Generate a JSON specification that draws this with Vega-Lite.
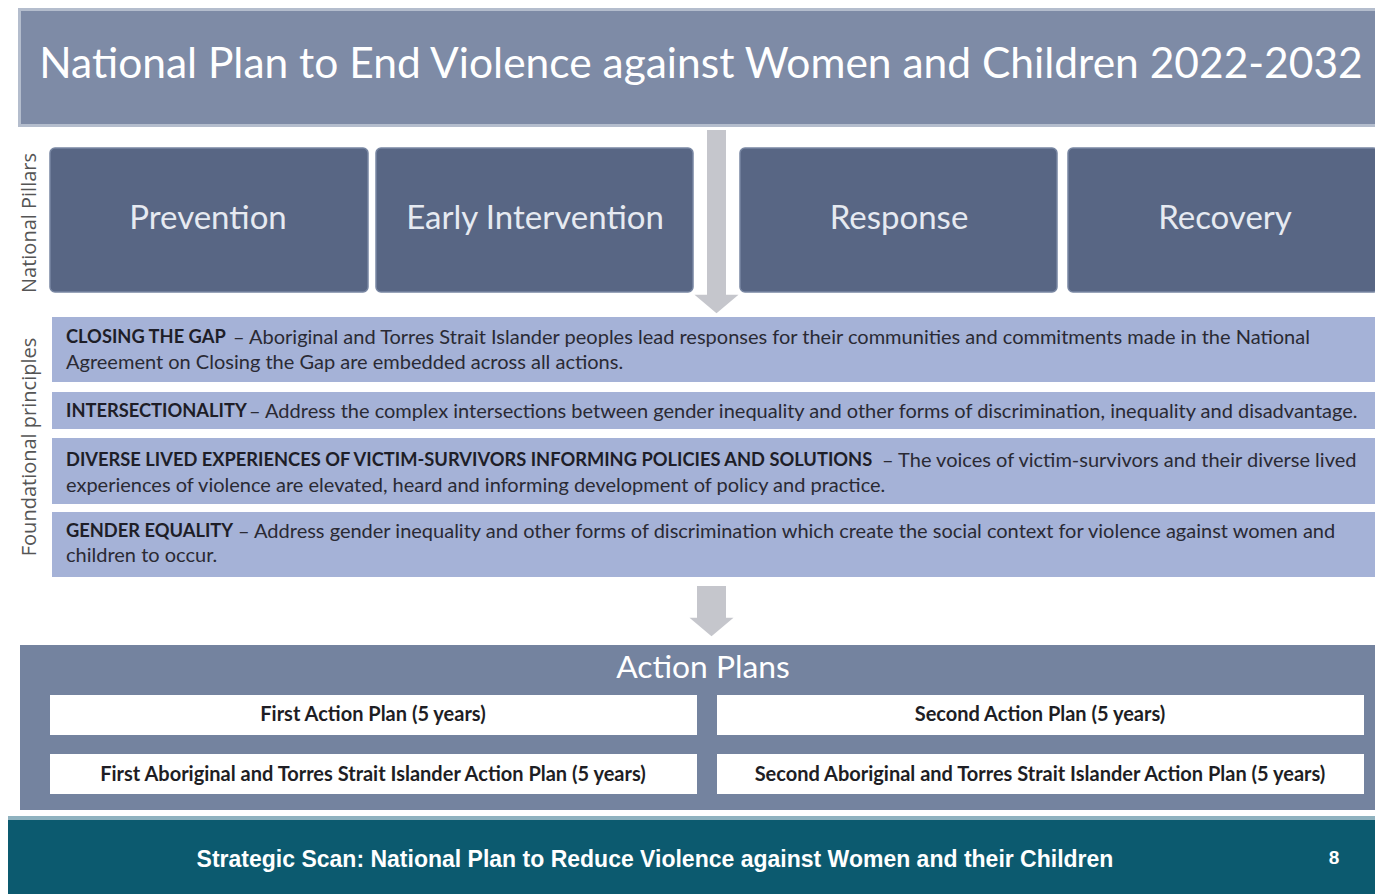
{
  "$schema": "https://vega.github.io/schema/vega-lite/v6.json",
  "width": 1375,
  "height": 894,
  "padding": 0,
  "autosize": {"type": "none"},
  "background": "white",
  "config": {"view": {"stroke": null}},
  "datasets": {
    "boxes": [
      {"kind": "titleedge", "left": 18, "right": 1377, "top": 8, "bottom": 127},
      {"kind": "title", "left": 21, "right": 1375, "top": 11, "bottom": 124},
      {"kind": "principle", "left": 52, "right": 1375, "top": 317, "bottom": 382},
      {"kind": "principle", "left": 52, "right": 1375, "top": 392, "bottom": 429},
      {"kind": "principle", "left": 52, "right": 1375, "top": 438, "bottom": 504},
      {"kind": "principle", "left": 52, "right": 1375, "top": 512, "bottom": 577},
      {"kind": "actions", "left": 20, "right": 1375, "top": 645, "bottom": 810},
      {"kind": "plan", "left": 50, "right": 697, "top": 695, "bottom": 735},
      {"kind": "plan", "left": 717, "right": 1364, "top": 695, "bottom": 735},
      {"kind": "plan", "left": 50, "right": 697, "top": 754, "bottom": 794},
      {"kind": "plan", "left": 717, "right": 1364, "top": 754, "bottom": 794},
      {"kind": "footerline", "left": 8, "right": 1375, "top": 816, "bottom": 821},
      {"kind": "footer", "left": 8, "right": 1375, "top": 820, "bottom": 894},
      {"kind": "shaft", "left": 707, "right": 726, "top": 130, "bottom": 296},
      {"kind": "shaft", "left": 697, "right": 726, "top": 586, "bottom": 618}
    ],
    "pillars": [
      {"name": "Prevention", "left": 50, "right": 368, "top": 148, "bottom": 292},
      {"name": "Early Intervention", "left": 376, "right": 693, "top": 148, "bottom": 292},
      {"name": "Response", "left": 740, "right": 1057, "top": 148, "bottom": 292},
      {"name": "Recovery", "left": 1068, "right": 1378, "top": 148, "bottom": 292}
    ],
    "heads": [
      {"x": 716.5, "y": 304},
      {"x": 711.5, "y": 627}
    ],
    "labels": [
      {"kind": "title", "text": "National Plan to End Violence against Women and Children 2022-2032", "x": 701, "y": 65},
      {"kind": "pillar", "text": "Prevention", "x": 208, "y": 219},
      {"kind": "pillar", "text": "Early Intervention", "x": 535, "y": 219},
      {"kind": "pillar", "text": "Response", "x": 899, "y": 219},
      {"kind": "pillar", "text": "Recovery", "x": 1225, "y": 219},
      {"kind": "side", "text": "National Pillars", "x": 30, "y": 223},
      {"kind": "side", "text": "Foundational principles", "x": 30, "y": 447},
      {"kind": "bold", "text": "CLOSING THE GAP", "x": 66, "y": 338},
      {"kind": "reg", "text": "– Aboriginal and Torres Strait Islander peoples lead responses for their communities and commitments made in the National", "x": 233, "y": 338},
      {"kind": "reg", "text": "Agreement on Closing the Gap are embedded across all actions.", "x": 66, "y": 363},
      {"kind": "bold", "text": "INTERSECTIONALITY", "x": 66, "y": 412},
      {"kind": "reg", "text": "– Address the complex intersections between gender inequality and other forms of discrimination, inequality and disadvantage.", "x": 249, "y": 412},
      {"kind": "bold", "text": "DIVERSE LIVED EXPERIENCES OF VICTIM-SURVIVORS INFORMING POLICIES AND SOLUTIONS", "x": 66, "y": 461},
      {"kind": "reg", "text": "– The voices of victim-survivors and their diverse lived", "x": 882, "y": 461},
      {"kind": "reg", "text": "experiences of violence are elevated, heard and informing development of policy and practice.", "x": 66, "y": 486},
      {"kind": "bold", "text": "GENDER EQUALITY", "x": 66, "y": 532},
      {"kind": "reg", "text": "– Address gender inequality and other forms of discrimination which create the social context for violence against women and", "x": 238, "y": 532},
      {"kind": "reg", "text": "children to occur.", "x": 66, "y": 556},
      {"kind": "actionTitle", "text": "Action Plans", "x": 703, "y": 668},
      {"kind": "plan", "text": "First Action Plan (5 years)", "x": 373, "y": 715},
      {"kind": "plan", "text": "Second Action Plan (5 years)", "x": 1040, "y": 715},
      {"kind": "plan", "text": "First Aboriginal and Torres Strait Islander Action Plan (5 years)", "x": 373, "y": 775},
      {"kind": "plan", "text": "Second Aboriginal and Torres Strait Islander Action Plan (5 years)", "x": 1040, "y": 775},
      {"kind": "footer", "text": "Strategic Scan: National Plan to Reduce Violence against Women and their Children", "x": 655, "y": 860},
      {"kind": "page", "text": "8", "x": 1334, "y": 858}
    ]
  },
  "layer": [
    {
      "data": {"name": "boxes"},
      "mark": {"type": "rect", "strokeWidth": 0},
      "encoding": {
        "x": {"field": "left", "type": "quantitative", "scale": {"domain": [0, 1375], "nice": false, "zero": false}, "axis": null},
        "x2": {"field": "right"},
        "y": {"field": "top", "type": "quantitative", "scale": {"domain": [0, 894], "nice": false, "zero": false, "reverse": true}, "axis": null},
        "y2": {"field": "bottom"},
        "color": {
          "field": "kind", "type": "nominal", "legend": null,
          "scale": {
            "domain": ["titleedge", "title", "principle", "actions", "plan", "footerline", "footer", "shaft"],
            "range": ["#b4bdcd", "#7e8ba6", "#a5b2d7", "#74839f", "#ffffff", "#8fb2bf", "#0c5a6f", "#c5c6cc"]
          }
        }
      }
    },
    {
      "data": {"name": "pillars"},
      "mark": {"type": "rect", "cornerRadius": 5, "fill": "#586684", "stroke": "#7886a2", "strokeWidth": 1.5},
      "encoding": {
        "x": {"field": "left", "type": "quantitative"},
        "x2": {"field": "right"},
        "y": {"field": "top", "type": "quantitative"},
        "y2": {"field": "bottom"}
      }
    },
    {
      "data": {"name": "heads"},
      "mark": {"type": "point", "shape": "M-1,-0.42L1,-0.42L0,0.42Z", "filled": true, "fill": "#c5c6cc", "opacity": 1, "size": 1936, "strokeWidth": 0},
      "encoding": {
        "x": {"field": "x", "type": "quantitative"},
        "y": {"field": "y", "type": "quantitative"}
      }
    },
    {
      "data": {"name": "labels"},
      "transform": [{"filter": "datum.kind === 'title'"}],
      "mark": {"type": "text", "font": "Lato", "fontSize": 42.5, "fill": "#ffffff", "align": "center", "baseline": "middle"},
      "encoding": {"x": {"field": "x", "type": "quantitative"}, "y": {"field": "y", "type": "quantitative"}, "text": {"field": "text"}}
    },
    {
      "data": {"name": "labels"},
      "transform": [{"filter": "datum.kind === 'pillar'"}],
      "mark": {"type": "text", "font": "Lato", "fontSize": 33, "fill": "#e6eaf1", "align": "center", "baseline": "middle"},
      "encoding": {"x": {"field": "x", "type": "quantitative"}, "y": {"field": "y", "type": "quantitative"}, "text": {"field": "text"}}
    },
    {
      "data": {"name": "labels"},
      "transform": [{"filter": "datum.kind === 'side'"}],
      "mark": {"type": "text", "font": "Open Sans", "fontSize": 20, "fill": "#555555", "align": "center", "baseline": "middle", "angle": 270},
      "encoding": {"x": {"field": "x", "type": "quantitative"}, "y": {"field": "y", "type": "quantitative"}, "text": {"field": "text"}}
    },
    {
      "data": {"name": "labels"},
      "transform": [{"filter": "datum.kind === 'bold'"}],
      "mark": {"type": "text", "font": "Lato", "fontSize": 18.3, "fontWeight": "bold", "fill": "#1e1e28", "align": "left", "baseline": "middle"},
      "encoding": {"x": {"field": "x", "type": "quantitative"}, "y": {"field": "y", "type": "quantitative"}, "text": {"field": "text"}}
    },
    {
      "data": {"name": "labels"},
      "transform": [{"filter": "datum.kind === 'reg'"}],
      "mark": {"type": "text", "font": "Lato", "fontSize": 20, "fill": "#2a2a34", "align": "left", "baseline": "middle"},
      "encoding": {"x": {"field": "x", "type": "quantitative"}, "y": {"field": "y", "type": "quantitative"}, "text": {"field": "text"}}
    },
    {
      "data": {"name": "labels"},
      "transform": [{"filter": "datum.kind === 'actionTitle'"}],
      "mark": {"type": "text", "font": "Lato", "fontSize": 31.8, "fill": "#ffffff", "align": "center", "baseline": "middle"},
      "encoding": {"x": {"field": "x", "type": "quantitative"}, "y": {"field": "y", "type": "quantitative"}, "text": {"field": "text"}}
    },
    {
      "data": {"name": "labels"},
      "transform": [{"filter": "datum.kind === 'plan'"}],
      "mark": {"type": "text", "font": "Lato", "fontSize": 20, "fontWeight": "bold", "fill": "#1e1e24", "align": "center", "baseline": "middle"},
      "encoding": {"x": {"field": "x", "type": "quantitative"}, "y": {"field": "y", "type": "quantitative"}, "text": {"field": "text"}}
    },
    {
      "data": {"name": "labels"},
      "transform": [{"filter": "datum.kind === 'footer'"}],
      "mark": {"type": "text", "font": "Liberation Sans", "fontSize": 23, "fontWeight": "bold", "fill": "#ffffff", "align": "center", "baseline": "middle"},
      "encoding": {"x": {"field": "x", "type": "quantitative"}, "y": {"field": "y", "type": "quantitative"}, "text": {"field": "text"}}
    },
    {
      "data": {"name": "labels"},
      "transform": [{"filter": "datum.kind === 'page'"}],
      "mark": {"type": "text", "font": "Liberation Sans", "fontSize": 19, "fontWeight": "bold", "fill": "#ffffff", "align": "center", "baseline": "middle"},
      "encoding": {"x": {"field": "x", "type": "quantitative"}, "y": {"field": "y", "type": "quantitative"}, "text": {"field": "text"}}
    }
  ]
}
